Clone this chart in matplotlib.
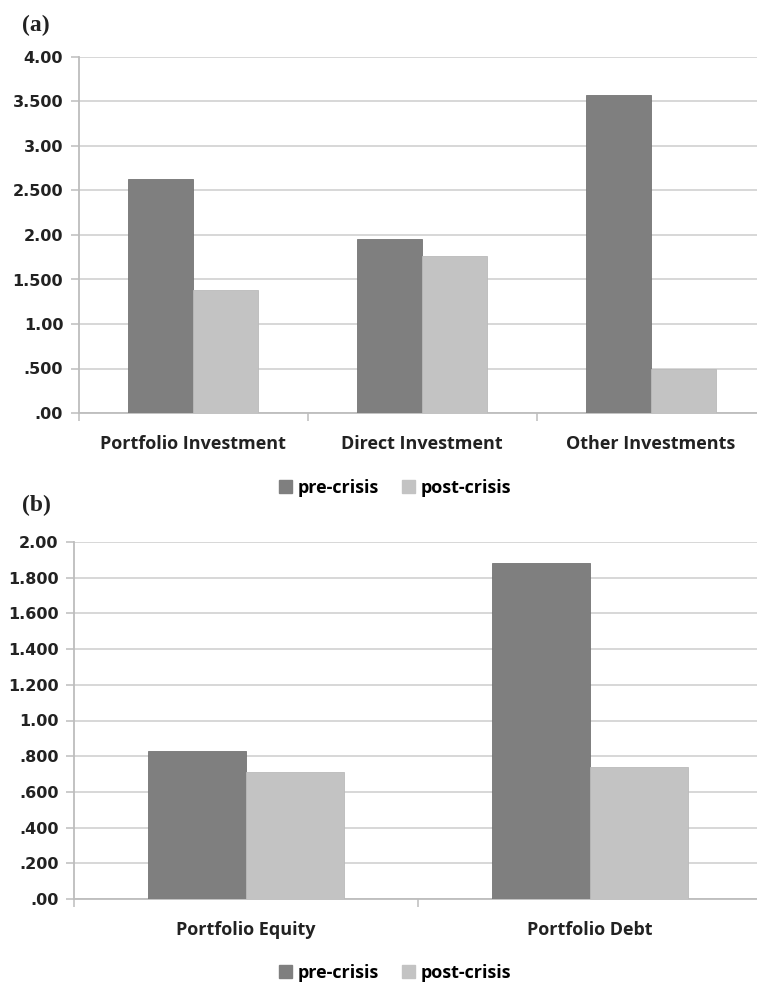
import numpy as np
import matplotlib
matplotlib.use("Agg")
import matplotlib.pyplot as plt
from matplotlib.ticker import FixedLocator

# panel (a)
cats_a = ["Portfolio Investment", "Direct Investment", "Other Investments"]
pre_a = [2.63, 1.96, 3.57]
post_a = [1.38, 1.76, 0.49]
yticks_a = [0, 0.5, 1.0, 1.5, 2.0, 2.5, 3.0, 3.5, 4.0]
ylabels_a = [".00", ".500", "1.00", "1.500", "2.00", "2.500", "3.00", "3.500", "4.00"]

# panel (b)
cats_b = ["Portfolio Equity", "Portfolio Debt"]
pre_b = [0.83, 1.88]
post_b = [0.71, 0.74]
yticks_b = [0, 0.2, 0.4, 0.6, 0.8, 1.0, 1.2, 1.4, 1.6, 1.8, 2.0]
ylabels_b = [".00", ".200", ".400", ".600", ".800", "1.00", "1.200", "1.400", "1.600", "1.800", "2.00"]

series = ["pre-crisis", "post-crisis"]

PRE_COLOR = "#7f7f7f"
POST_COLOR = "#c3c3c3"
GRID = "#d4d4d4"
AXIS = "#bdbdbd"
LABEL_FONT = ["Open Sans", "DejaVu Sans"]

W, H = 757, 983
fig = plt.figure(figsize=(W / 100, H / 100), dpi=100)


def panel(rect, cats, pre, post, yticks, ylabels, tag, tag_y, leg_y):
    ax = fig.add_axes(rect)
    x = np.arange(len(cats))
    width = 0.284
    ax.bar(x - width / 2, pre, width, color=PRE_COLOR, edgecolor="#747474", linewidth=0.6, zorder=3)
    ax.bar(x + width / 2, post, width, color=POST_COLOR, edgecolor="#bababa", linewidth=0.6, zorder=3)
    ax.set_xlim(-0.5, len(cats) - 0.5)
    ax.set_ylim(yticks[0], yticks[-1])

    ax.set_yticks(yticks)
    ax.set_yticklabels(ylabels, fontsize=11.5, fontweight="bold", color="#222222")
    ax.yaxis.grid(True, color=GRID, linewidth=1.3, zorder=0)
    ax.tick_params(axis="y", length=6, width=1.1, color=AXIS, pad=5)

    ax.set_xticks(x)
    ax.set_xticklabels(cats, fontsize=13, fontweight="bold", family=LABEL_FONT, color="#222222")
    ax.xaxis.set_minor_locator(FixedLocator(np.arange(len(cats) + 1) - 0.5))
    ax.tick_params(axis="x", which="major", length=0, pad=16)
    ax.tick_params(axis="x", which="minor", length=6, width=1.1, color=AXIS)

    for s in ["top", "right"]:
        ax.spines[s].set_visible(False)
    for s in ["left", "bottom"]:
        ax.spines[s].set_color(AXIS)
        ax.spines[s].set_linewidth(1.3)
    ax.set_axisbelow(True)

    fig.text(22 / W, 1 - tag_y / H, tag, fontsize=17, fontweight="bold",
             family="Liberation Serif", va="center", ha="left", color="#222222")

    handles = [plt.Rectangle((0, 0), 1, 1, color=PRE_COLOR),
               plt.Rectangle((0, 0), 1, 1, color=POST_COLOR)]
    ax.legend(handles, series, loc="center", bbox_to_anchor=(395 / W, 1 - leg_y / H),
              bbox_transform=fig.transFigure, ncol=2, frameon=False,
              handlelength=0.7, handleheight=0.7, handletextpad=0.3, columnspacing=1.3,
              prop={"family": LABEL_FONT, "weight": "bold", "size": 13})
    return ax


panel([78.5 / W, 1 - 413 / H, 687 / W, 356 / H], cats_a, pre_a, post_a,
      yticks_a, ylabels_a, "(a)", 25, 488)
panel([74 / W, 1 - 899 / H, 688 / W, 357 / H], cats_b, pre_b, post_b,
      yticks_b, ylabels_b, "(b)", 505, 973)

fig.savefig("out.png", dpi=100)
